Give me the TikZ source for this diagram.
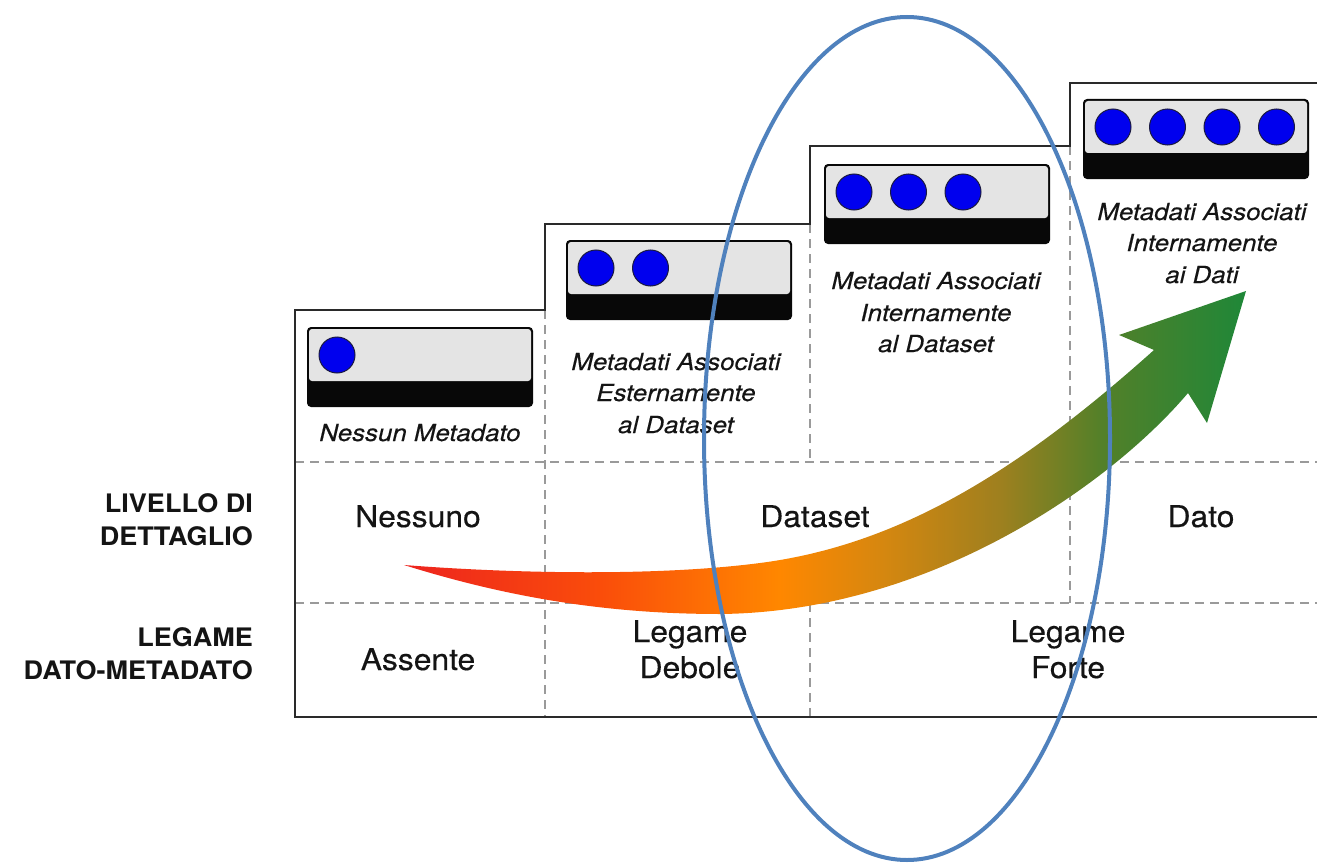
\documentclass[tikz,border=0pt]{standalone}
\usepackage{fontspec}
\setmainfont{TeX Gyre Heros}
\newfontfamily\capfont[FakeStretch=1.1, FakeBold=0.35]{TeX Gyre Heros}
\newfontfamily\rowfont[FakeStretch=1.06, FakeBold=0.35]{TeX Gyre Heros}
\newfontfamily\sidefont[FakeStretch=1.06]{TeX Gyre Heros}
\definecolor{outline}{HTML}{2A2A2A}
\definecolor{dashgray}{HTML}{9A9A9A}
\definecolor{boxgray}{HTML}{E4E4E4}
\definecolor{boxedge}{HTML}{080808}
\definecolor{dotblue}{HTML}{0000EE}
\definecolor{dotedge}{HTML}{1A1A40}
\definecolor{ellblue}{HTML}{4F81BD}
\definecolor{txt}{HTML}{141414}
\pgfdeclarehorizontalshading{arrowshade}{100bp}{rgb(0bp)=(0.93,0.14,0.12); rgb(25bp)=(0.93,0.14,0.12); rgb(36.6bp)=(0.98,0.30,0.04); rgb(47.3bp)=(1,0.53,0); rgb(53.3bp)=(0.84,0.53,0.06); rgb(60.4bp)=(0.62,0.50,0.12); rgb(66.3bp)=(0.33,0.50,0.16); rgb(75bp)=(0.12,0.53,0.22); rgb(100bp)=(0.12,0.53,0.22)}
\newcommand{\mdbox}[3]{%
  \fill[boxedge, rounded corners=4] (#1,#2) rectangle ++(226,80);
  \fill[boxgray, rounded corners=3] (#1+2,#2+2) rectangle ++(222,52);
  \foreach \k in {1,...,#3}
    \filldraw[fill=dotblue, draw=dotedge, line width=1] (#1+30+54.5*\k-54.5, #2+28) circle[radius=18];
}
\tikzset{
  frame/.style={draw=outline, line width=2.5},
  grid/.style={draw=dashgray, line width=1.5, dash pattern=on 9 off 6},
  captext/.style={anchor=base, inner sep=0, text=txt, font=\capfont\itshape\fontsize{23.5}{28}\selectfont},
  rowtext/.style={anchor=base, inner sep=0, text=txt, font=\rowfont\fontsize{30}{36}\selectfont},
  sidetext/.style={anchor=base east, inner sep=0, text=txt, font=\sidefont\bfseries\fontsize{25.5}{30}\selectfont},
}
\begin{document}
\begin{tikzpicture}[x=1pt, y=-1pt]
\useasboundingbox (0,0) rectangle (1317,864);
% grid lines
\draw[grid] (295,462) -- (1317,462);
\draw[grid] (295,603) -- (1317,603);
\draw[grid] (545,310) -- (545,717);
\draw[grid] (810,224) -- (810,462);
\draw[grid] (810,603) -- (810,717);
\draw[grid] (1070,146) -- (1070,603);
% staircase frame
\draw[frame] (1317,83) -- (1070,83) -- (1070,146) -- (810,146) -- (810,224) -- (545,224) -- (545,310) -- (295,310) -- (295,717) -- (1317,717);
% boxes
\mdbox{307}{327}{1}
\mdbox{566}{240}{2}
\mdbox{824}{164}{3}
\mdbox{1083}{99}{4}
% captions
\node[captext] (c1) at (420,441) {Nessun Metadato};
\node[captext] (c2a) at (676,370) {Metadati Associati};
\node[captext] (c2b) at (676,401) {Esternamente};
\node[captext] (c2c) at (676,433) {al Dataset};
\node[captext] (c3a) at (936,289) {Metadati Associati};
\node[captext] (c3b) at (936,321) {Internamente};
\node[captext] (c3c) at (936,352) {al Dataset};
\node[captext] (c4a) at (1202,220) {Metadati Associati};
\node[captext] (c4b) at (1202,251) {Internamente};
\node[captext] (c4c) at (1202,283) {ai Dati};
% row texts
\node[rowtext] (r1) at (418,527) {Nessuno};
\node[rowtext] (r2) at (815,527) {Dataset};
\node[rowtext] (r3) at (1201,527) {Dato};
\node[rowtext] (l1) at (418,670) {Assente};
\node[rowtext] (l2a) at (690,642) {Legame};
\node[rowtext] (l2b) at (690,678) {Debole};
\node[rowtext] (l3a) at (1068,642) {Legame};
\node[rowtext] (l3b) at (1068,678) {Forte};
% side labels
\node[sidetext] (s1a) at (253,512) {LIVELLO DI};
\node[sidetext] (s1b) at (253,545) {DETTAGLIO};
\node[sidetext] (s2a) at (253,646) {LEGAME};
\node[sidetext] (s2b) at (253,679) {DATO-METADATO};
% arrow
\shade[shading=arrowshade] (404,565) .. controls (520,574) and (660,576) .. (760,563)
  .. controls (900,545) and (1020,470) .. (1154,350)
  -- (1119,335) -- (1246,291) -- (1207,423) -- (1188,393)
  .. controls (1110,485) and (930,612) .. (720,614)
  .. controls (600,614) and (500,595) .. (404,565) -- cycle;
% ellipse
\draw[ellblue, line width=4] (907,438.5) ellipse [x radius=203, y radius=421.5];
\end{tikzpicture}
\end{document}
